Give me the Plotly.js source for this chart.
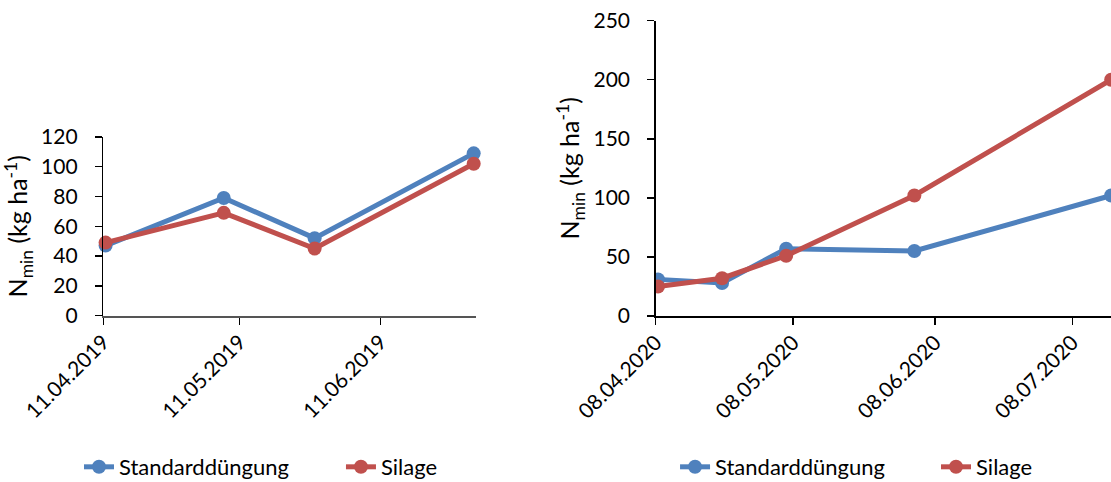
<!DOCTYPE html>
<html>
<head>
<meta charset="utf-8">
<script src="https://cdn.plot.ly/plotly-3.0.1.min.js"></script>
<style>html,body{margin:0;padding:0;background:#fff;}#chart{width:1111px;height:482px;}</style>
</head>
<body>
<div id="chart"></div>
<script>
// ---- data (2019) ----
const dates2019 = ['2019-04-11', '2019-05-07', '2019-05-27', '2019-07-01'];
const standard2019 = [47, 79, 52, 109];
const silage2019 = [49, 69, 45, 102];
const ticks2019 = ['2019-04-11', '2019-05-11', '2019-06-11'];
const tickText2019 = ['11.04.2019', '11.05.2019', '11.06.2019'];

// ---- data (2020) ----
const dates2020 = ['2020-04-08', '2020-04-22', '2020-05-06', '2020-06-03', '2020-07-16'];
const standard2020 = [31, 28, 57, 55, 102];
const silage2020 = [25, 32, 51, 102, 200];
const ticks2020 = ['2020-04-08', '2020-05-08', '2020-06-08', '2020-07-08'];
const tickText2020 = ['08.04.2020', '08.05.2020', '08.06.2020', '08.07.2020'];

const seriesNames = ['Standarddüngung', 'Silage'];
const blue = '#4F81BD', red = '#C0504D';
const FONT = 'Lato, "Open Sans", sans-serif';
const DAY = 86400000;

function tr(x, y, name, color, xa, ya, legend, clip) {
  return {
    type: 'scatter', mode: 'lines+markers', x: x, y: y, name: name,
    xaxis: xa, yaxis: ya, legend: legend,
    xperiod: DAY, xperiodalignment: 'middle',
    line: {color: color, width: 5},
    marker: {color: color, size: 14},
    cliponaxis: clip, hoverinfo: 'skip'
  };
}

const data = [
  tr(dates2019, standard2019, seriesNames[0], blue, 'x', 'y', 'legend', false),
  tr(dates2019, silage2019, seriesNames[1], red, 'x', 'y', 'legend2', false),
  tr(dates2020, standard2020, seriesNames[0], blue, 'x2', 'y2', 'legend3', true),
  tr(dates2020, silage2020, seriesNames[1], red, 'x2', 'y2', 'legend4', true)
];

const yTitle = 'N<sub>min</sub> (kg ha<sup>-1</sup>)';
const tickFont = {family: FONT, size: 21, color: '#000'};

function xaxis(domain, range, tv, tt, anchor, lineColor) {
  return {
    type: 'date', domain: domain, range: range, anchor: anchor,
    tickvals: tv, ticktext: tt, tickangle: -45,
    showline: true, linecolor: lineColor, linewidth: 2,
    ticks: 'outside', ticklen: 7, tickwidth: 1.5, tickcolor: '#000',
    showgrid: false, zeroline: false, tickfont: tickFont,
    ticklabelstandoff: -3, fixedrange: true, automargin: false
  };
}
function yaxis(domain, range, dtick, anchor) {
  return {
    domain: domain, range: range, dtick: dtick, anchor: anchor,
    showline: true, linecolor: '#000', linewidth: 1.5,
    ticks: 'outside', ticklen: 7, tickwidth: 1.5, tickcolor: '#000',
    showgrid: false, zeroline: false, tickfont: tickFont,
    ticklabelstandoff: 13, fixedrange: true, automargin: false,
    title: {text: yTitle, font: {family: FONT, size: 25, color: '#000'}, standoff: 6}
  };
}

function legend(xFrac) {
  return {orientation: 'h', x: xFrac, y: 0.0311, xanchor: 'left', yanchor: 'middle',
          font: {family: FONT, size: 22, color: '#000'}, bgcolor: 'rgba(0,0,0,0)'};
}

const layout = {
  width: 1111, height: 482,
  margin: {l: 0, r: 0, t: 0, b: 0, autoexpand: false},
  paper_bgcolor: '#fff', plot_bgcolor: '#fff',
  showlegend: true, hovermode: false,
  xaxis: xaxis([0.093, 0.4284], ['2019-04-11', '2019-07-02'], ticks2019, tickText2019, 'y', '#555'),
  yaxis: yaxis([0.3454, 0.7158], [0, 120], 20, 'x'),
  xaxis2: xaxis([0.5902, 1], ['2020-04-08', '2020-07-16T11:00'], ticks2020, tickText2020, 'y2', '#000'),
  yaxis2: yaxis([0.3444, 0.9571], [0, 250], 50, 'x2'),
  legend: legend(0.0711),
  legend2: legend(0.3069),
  legend3: legend(0.6076),
  legend4: legend(0.8425)
};

Plotly.newPlot('chart', data, layout, {staticPlot: true, displayModeBar: false});
</script>
</body>
</html>
